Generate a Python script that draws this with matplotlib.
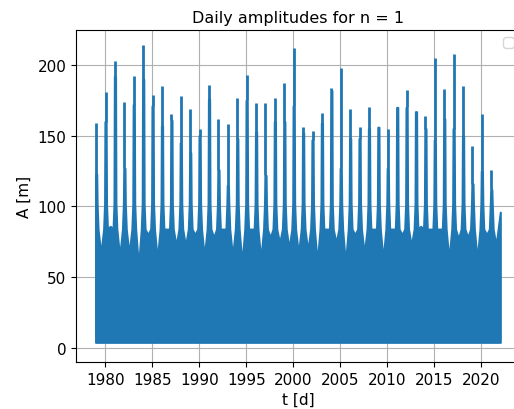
import numpy as np
import matplotlib
matplotlib.use("Agg")
import matplotlib.pyplot as plt

# ---- data (values in metres, one winter peak per year) ----
years = list(range(1979, 2022))
# height of the tall winter spike of each year
peak = [159, 181, 203, 174, 192, 214, 179, 185, 165, 178, 169, 155, 186, 162, 158,
        177, 193, 173, 173, 177, 187, 212,
        156, 153, 166, 184, 198, 169, 156, 170, 156, 155, 170, 182, 167, 164, 205,
        183, 208, 185, 143, 165, 126]
# height of the broader block under each spike
shoulder = [123, 160, 192, 127, 172, 190, 171, 157, 161, 145, 138, 150, 176, 126, 115,
            148, 175, 153, 122, 160, 160, 171,
            152, 147, 159, 182, 127, 148, 148, 155, 156, 127, 170, 170, 167, 155, 147,
            162, 155, 150, 116, 125, 112]
# lowest top of the dense band in the summer after each winter
summer_top = [66, 86, 64, 66, 57, 80, 62, 84, 72, 72, 80, 64, 78, 84, 64, 59, 84, 62,
              78, 74, 70, 66,
              68, 60, 84, 74, 59, 80, 66, 84, 62, 84, 80, 72, 86, 84, 84, 62, 77, 78,
              62, 80, 72]
winter_top = 102      # typical top of the dense band in mid-winter
autumn_top = 84       # typical top of the dense band in autumn / spring
band_floor = 4        # bottom of the dense band
end_value = 96        # last value of the series (start of 2022)
end_year = 2022.0

xticks = [1980, 1985, 1990, 1995, 2000, 2005, 2010, 2015, 2020]
yticks = [0, 50, 100, 150, 200]

# ---- build the band outline from the read values ----
t_up, v_up = [], []
peak_t = []
for i, y in enumerate(years):
    T = y + 0.04
    peak_t.append(T)
    if i > 0:
        t_up += [T - 0.2, T - 0.1]; v_up += [autumn_top, winter_top]
    t_up += [T - 0.06, T + 0.06]; v_up += [shoulder[i], shoulder[i]]
    t_up += [T + 0.1, T + 0.2]; v_up += [winter_top, autumn_top]
    t_up.append(T + 0.5); v_up.append(summer_top[i])
t_up.append(end_year); v_up.append(end_value)
t_up = np.array(t_up)
v_up = np.array(v_up, dtype=float)

color = "#1f77b4"
fig = plt.figure(figsize=(5.14, 4.10), dpi=100)
ax = fig.add_axes([76 / 514, 47 / 410, 445 / 514, 332 / 410])

ax.fill_between(t_up, band_floor, v_up, facecolor=color, edgecolor=color,
                linewidth=1.5, zorder=2)
ax.vlines(peak_t, shoulder, peak, colors=color, linewidth=2.0, zorder=2)

ax.set_xlim(1976.9, 2024.2)
ax.set_ylim(-9.9, 224.7)
ax.set_xticks(xticks)
ax.set_yticks(yticks)
ax.tick_params(labelsize=11)
ax.grid(True)
ax.set_xlabel("t [d]", fontsize=11)
ax.set_ylabel("A [m]", fontsize=11)
ax.set_title("Daily amplitudes for n = 1", fontsize=11.5)
ax.legend(loc="upper right", fontsize=10)

fig.savefig("out.png", dpi=100)
